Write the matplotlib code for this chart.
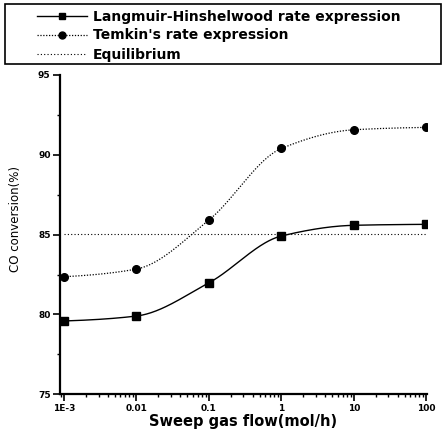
import numpy as np
import matplotlib
matplotlib.use("Agg")
import matplotlib.pyplot as plt
from matplotlib.ticker import FixedLocator, LogLocator, MultipleLocator, NullFormatter
from matplotlib.lines import Line2D
from matplotlib.patches import Rectangle

flow = [0.001, 0.01, 0.1, 1, 10, 100]
lh_values = [79.59, 79.90, 81.98, 84.91, 85.58, 85.64]
temkin_values = [82.36, 82.84, 85.91, 90.39, 91.56, 91.71]
equilibrium_value = 85.05
x_tick_labels = ["1E-3", "0.01", "0.1", "1", "10", "100"]
y_ticks = [75, 80, 85, 90, 95]
labels = ["Langmuir-Hinshelwood rate expression", "Temkin's rate expression", "Equilibrium"]


def pchip(x, y, xn):
    x = np.asarray(x, float); y = np.asarray(y, float)
    h = np.diff(x); d = np.diff(y) / h
    n = len(x); m = np.zeros(n)
    for k in range(1, n - 1):
        if d[k - 1] * d[k] > 0:
            w1 = 2 * h[k] + h[k - 1]; w2 = h[k] + 2 * h[k - 1]
            m[k] = (w1 + w2) / (w1 / d[k - 1] + w2 / d[k])
    m[0] = d[0] * 0.5
    m[-1] = d[-1] * 0.5
    out = np.empty_like(xn)
    for i, xv in enumerate(xn):
        k = min(max(np.searchsorted(x, xv) - 1, 0), n - 2)
        t = (xv - x[k]) / h[k]
        h00 = 2 * t**3 - 3 * t**2 + 1; h10 = t**3 - 2 * t**2 + t
        h01 = -2 * t**3 + 3 * t**2; h11 = t**3 - t**2
        out[i] = h00 * y[k] + h10 * h[k] * m[k] + h01 * y[k + 1] + h11 * h[k] * m[k + 1]
    return out


plt.rcParams['font.family'] = ['DejaVu Sans']
W, H = 445, 430
fig = plt.figure(figsize=(W / 100, H / 100), dpi=100)
ax = fig.add_axes([0.1355, 0.083, 0.8235, 0.743])

lx = np.log10(flow)
xs = np.linspace(lx[0], lx[-1], 300)
ax.plot(10**xs, pchip(lx, lh_values, xs), color='black', lw=1.0, ls='-')
ax.plot(10**xs, pchip(lx, temkin_values, xs), color='black', lw=0.9, ls=(0, (1, 1.3)))
ax.plot([flow[0], flow[-1]], [equilibrium_value] * 2, color='black', lw=0.8, ls=(0, (1, 2)))
ax.plot(flow, lh_values, ls='none', marker='s', ms=5.2, color='black')
ax.plot(flow, temkin_values, ls='none', marker='o', ms=5.5, color='black')

ax.set_xscale('log')
ax.set_xlim(10**-3.05, 10**2.005)
ax.set_ylim(75, 95)
ax.xaxis.set_major_locator(FixedLocator(flow))
ax.set_xticklabels(x_tick_labels)
ax.xaxis.set_minor_locator(LogLocator(base=10, subs=np.arange(2, 10), numticks=20))
ax.xaxis.set_minor_formatter(NullFormatter())
ax.set_yticks(y_ticks)
ax.yaxis.set_minor_locator(MultipleLocator(2.5))

for s in ['top', 'right']:
    ax.spines[s].set_visible(False)
for s in ['left', 'bottom']:
    ax.spines[s].set_linewidth(1.6)
ax.tick_params(which='major', direction='out', length=5, width=1.2, labelsize=6.5, pad=2)
ax.tick_params(which='minor', direction='out', length=2.5, width=1.0)
for t in ax.get_xticklabels() + ax.get_yticklabels():
    t.set_fontweight('bold')

ax.set_xlabel("Sweep gas flow(mol/h)", fontsize=10.5, fontweight='bold', labelpad=1)
ax.set_ylabel("CO conversion(%)", fontsize=8.5, labelpad=6)
ax.yaxis.set_label_coords(-0.105, 0.549)

# legend frame
fig.patches.append(Rectangle((5 / W, 1 - 64 / H), 436 / W, 60 / H, transform=fig.transFigure,
                             fill=False, edgecolor='black', lw=1.2))

handles = [
    Line2D([], [], color='black', lw=1.0, marker='s', ms=5),
    Line2D([], [], color='black', lw=0.9, ls=(0, (1, 1.3)), marker='o', ms=5),
    Line2D([], [], color='black', lw=0.8, ls=(0, (1, 2))),
]
fs = 10.0
fpx = fs * 100 / 72
leg = fig.legend(handles, labels, loc='upper left', bbox_to_anchor=(37 / W, 1 - 9.5 / H),
                 frameon=False, prop={'weight': 'bold', 'size': fs},
                 handlelength=50 / fpx, handletextpad=6 / fpx,
                 labelspacing=0.36, borderpad=0.0, borderaxespad=0.0)

fig.savefig("out.png", dpi=100)
